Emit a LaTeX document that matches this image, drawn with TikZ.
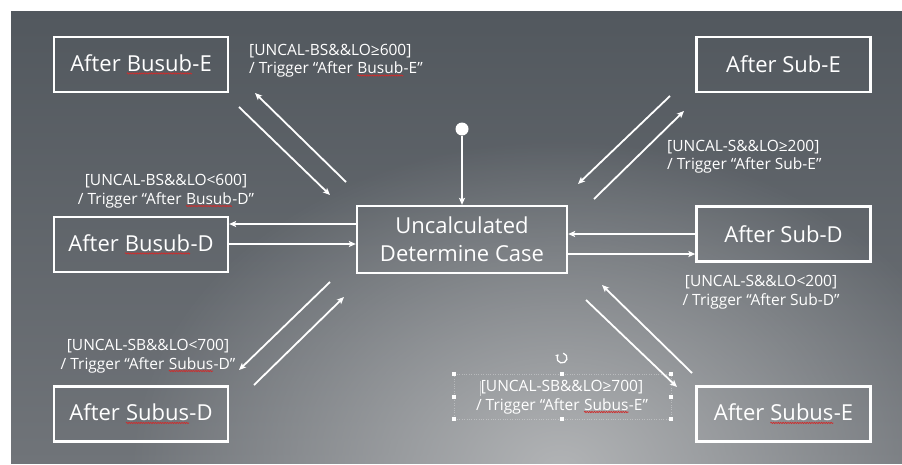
\documentclass[tikz,border=0pt]{standalone}
\usepackage{fontspec}
\setmainfont{Open Sans}
\usetikzlibrary{arrows.meta,fadings,decorations.pathmorphing}

\definecolor{bgtop}{RGB}{82,88,94}
\definecolor{bgbot}{RGB}{112,116,121}
\definecolor{bglight}{RGB}{178,180,182}
\definecolor{spellred}{RGB}{205,45,45}

\tikzfading[name=spotfade,inner color=transparent!0,outer color=transparent!100]

% red wavy spell-check underline under a word
\newcommand\spl[1]{\tikz[baseline=(sw.base)]{%
  \node[draw=none,inner sep=0pt,outer sep=0pt,minimum width=0pt,
        minimum height=0pt](sw){#1};%
  \draw[spellred,line width=0.75pt,decorate,
        decoration={snake,amplitude=0.6pt,segment length=2.4pt}]
    ([yshift=-2pt]sw.base west) -- ([yshift=-2pt]sw.base east);}}

\tikzset{
  statebox/.style={draw=white,line width=2.3pt,inner sep=0pt,text=white,
    minimum width=174pt,minimum height=55pt,
    font=\fontsize{22}{26}\selectfont},
  guard/.style={text=white,inner sep=0pt,font=\fontsize{15.5}{18.5}\selectfont},
  arr/.style={white,line width=1.8pt,-{Stealth[length=7pt,width=6pt,inset=1.5pt]}},
  handle/.style={fill=white,minimum size=4pt,inner sep=0pt},
}

\begin{document}
\begin{tikzpicture}[x=1pt,y=-1pt]
\useasboundingbox (0,0) rectangle (902,464);
\fill[white] (0,0) rectangle (902,464);

% slide background: dark grey at the top, lighter toward the bottom centre
\begin{scope}
  \clip (11,11) rectangle (902,463);
  \shade[top color=bgtop,bottom color=bgbot] (11,11) rectangle (902,463);
  \fill[bglight,path fading=spotfade] (560,470) ellipse (430 and 330);
\end{scope}

% states
\node[statebox] (bE)  at (141,64.5)  {After \spl{Busub}-E};
\node[statebox] (sE)  at (783.5,64.5) {After Sub-E};
\node[statebox] (bD)  at (141,244.5) {After \spl{Busub}-D};
\node[statebox,minimum width=210pt,minimum height=67pt,align=center,
      font=\fontsize{22}{28}\selectfont] (U) at (462,239.5)
      {Uncalculated\\Determine Case};
\node[statebox] (sD)  at (783.5,234) {After Sub-D};
\node[statebox] (sbD) at (141,414)   {After \spl{Subus}-D};
\node[statebox] (sbE) at (783.5,414) {After \spl{Subus}-E};

% initial state
\node[circle,fill=white,minimum size=13pt,inner sep=0pt] (init) at (462,129) {};
\draw[arr] (init) -- (U.north);

% horizontal transitions
\draw[arr] (U.west |- 0,224) -- (bD.east |- 0,224);
\draw[arr] (bD.east |- 0,244) -- (U.west |- 0,244);
\draw[arr] (sD.west |- 0,234) -- (U.east |- 0,234);
\draw[arr] (U.east |- 0,254) -- (sD.west |- 0,254);

% diagonal transitions
\coordinate (d1a) at (346,182); \coordinate (d1b) at (255,93);
\coordinate (d2a) at (239,107); \coordinate (d2b) at (330,195);
\coordinate (d3a) at (670,96);  \coordinate (d3b) at (578,184);
\coordinate (d4a) at (594,199); \coordinate (d4b) at (684,111);
\coordinate (d5a) at (330,282); \coordinate (d5b) at (239,370);
\coordinate (d6a) at (254,385); \coordinate (d6b) at (344,297);
\coordinate (d7a) at (692,373); \coordinate (d7b) at (602,285);
\coordinate (d8a) at (586,300); \coordinate (d8b) at (677,387);
\foreach \d in {1,...,8} \draw[arr] (d\d a) -- (d\d b);

% guards
\node[guard,align=left,anchor=west] (g1) at (249,60.5)
  {[UNCAL-BS\&\&LO≥600]\\/ Trigger “After \spl{Busub}-E”};
\node[guard,align=center] (g2) at (166,191)
  {[UNCAL-BS\&\&LO<600]\\/ Trigger “After \spl{Busub}-D”};
\node[guard,align=left,anchor=west] (g3) at (667,156.5)
  {[UNCAL-S\&\&LO≥200]\\/ Trigger “After Sub-E”};
\node[guard,align=center] (g4) at (761,292)
  {[UNCAL-S\&\&LO<200]\\/ Trigger “After Sub-D”};
\node[guard,align=center] (g5) at (148,356)
  {[UNCAL-SB\&\&LO<700]\\/ Trigger “After \spl{Subus}-D”};
\node[guard,align=center] (g6) at (562,397)
  {[UNCAL-SB\&\&LO≥700]\\/ Trigger “After \spl{Subus}-E”};

% selection frame around the last guard
\draw[white,opacity=0.3,line width=0.4pt,dotted] (454,374) rectangle (671,419);
\foreach \hx in {454,562,671} \foreach \hy in {374,419}
  \node[handle] at (\hx,\hy) {};
\foreach \hx in {454,671} \node[handle] at (\hx,397) {};
\draw[white,line width=1.3pt,-{Stealth[length=3pt,width=4pt]}]
  (562,358) ++(75:5pt) arc (75:-225:5pt);
\draw[white,opacity=0.5,line width=0.4pt] (480,381) -- (480,396);
\end{tikzpicture}
\end{document}
